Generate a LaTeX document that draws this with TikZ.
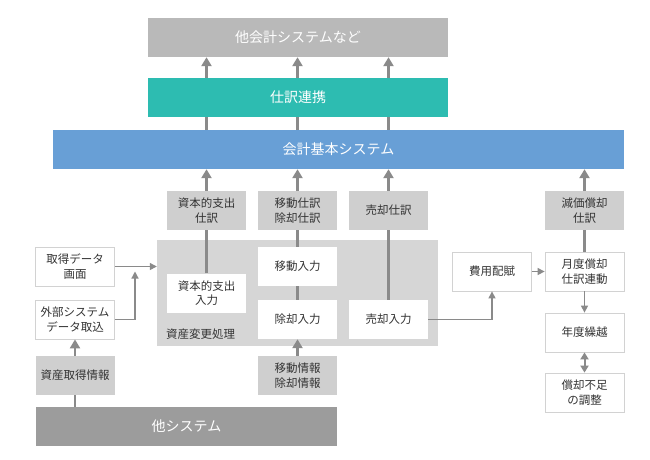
\documentclass[tikz,border=0pt]{standalone}
\usepackage{fontspec}
\setmainfont{Noto Sans CJK JP}
\usetikzlibrary{arrows.meta}
\definecolor{topgray}{HTML}{B9B9B9}
\definecolor{tealc}{HTML}{2DBCB1}
\definecolor{bluec}{HTML}{689FD6}
\definecolor{lbox}{HTML}{CFCFCF}
\definecolor{areac}{HTML}{D6D6D6}
\definecolor{darkc}{HTML}{9C9C9C}
\definecolor{arc}{HTML}{8A8A8A}
\definecolor{bdc}{HTML}{D2D2D2}
\definecolor{txt}{HTML}{333333}
\tikzset{
  box/.style={inner sep=0pt, minimum width=79pt, minimum height=39pt, align=center,
    font=\fontsize{11.5}{14.5}\selectfont, text=txt},
  wbox/.style={box, draw=bdc, line width=0.8pt, fill=white},
  gbox/.style={box, fill=lbox},
  bigbox/.style={inner sep=0pt, minimum height=39pt, text=white, font=\fontsize{14}{16}\selectfont},
  conn/.style={draw=arc, line width=2.4pt},
  uparr/.style={conn, -{Triangle[width=10pt,length=9pt]}},
  thinarr/.style={draw=arc, line width=1.2pt, -{Triangle[width=7pt,length=7pt]}},
  dblarr/.style={draw=arc, line width=2pt, {Triangle[width=8pt,length=7pt]}-{Triangle[width=8pt,length=7pt]}}
}
\begin{document}
\begin{tikzpicture}[x=1pt,y=-1pt]
\useasboundingbox[fill=white] (0,0) rectangle (650,459);
% big bars
\node[bigbox, fill=topgray, minimum width=300pt] (top) at (298,37.5) {他会計システムなど};
\node[bigbox, fill=tealc, minimum width=300pt] (teal) at (298,97.5) {仕訳連携};
\node[bigbox, fill=bluec, minimum width=571pt] (blue) at (338.5,149.5) {会計基本システム};
\node[bigbox, fill=darkc, minimum width=301pt] (other) at (186.5,426.5) {他システム};
% area
\node[inner sep=0pt, fill=areac, minimum width=281pt, minimum height=106pt] (area) at (297.5,293) {};
\node[anchor=west, inner sep=0pt, font=\fontsize{11.5}{14}\selectfont, text=txt] (arealbl) at (166,334) {資産変更処理};
% journal boxes
\node[gbox] (capj) at (206.5,210.5) {資本的支出\\仕訳};
\node[gbox] (mvj) at (297.5,210.5) {移動仕訳\\除却仕訳};
\node[gbox] (salej) at (388.5,210.5) {売却仕訳};
\node[gbox] (depj) at (584.5,210.5) {減価償却\\仕訳};
% inputs
\node[box, fill=white] (capin) at (206.5,293) {資本的支出\\入力};
\node[box, fill=white] (mvin) at (297.5,266.5) {移動入力};
\node[box, fill=white] (retin) at (297.5,319.5) {除却入力};
\node[box, fill=white] (salein) at (388.5,319.5) {売却入力};
\node[gbox] (mvinfo) at (297.5,375.5) {移動情報\\除却情報};
% left column
\node[wbox] (acq) at (75,266.5) {取得データ\\画面};
\node[wbox] (ext) at (75,319.5) {外部システム\\データ取込};
\node[gbox] (acqinfo) at (75,375.5) {資産取得情報};
% right column
\node[wbox] (cost) at (492,271.5) {費用配賦};
\node[wbox] (month) at (584.5,271.5) {月度償却\\仕訳連動};
\node[wbox] (year) at (584.5,332.5) {年度繰越};
\node[wbox] (short) at (584.5,392.5) {償却不足\\の調整};
\coordinate (j1) at (135,271.5);
% top connectors
\foreach \n in {capj,mvj,salej}{
  \draw[uparr] (\n.north |- teal.north) -- (\n.north |- top.south);
  \draw[conn] (\n.north |- blue.north) -- (\n.north |- teal.south);
}
\foreach \n in {capj,mvj,salej,depj}{
  \draw[uparr] (\n.north) -- (\n.north |- blue.south);
}
% vertical links
\draw[conn] (capin.north) -- (capj.south);
\draw[conn] (mvin.north) -- (mvj.south);
\draw[conn] (mvin.south) -- (retin.north);
\draw[uparr] (mvinfo.north) -- (retin.south);
\draw[conn] (salein.north) -- (salej.south);
\draw[conn] (month.north) -- (depj.south);
\draw[conn] (other.north -| acqinfo.south) -- (acqinfo.south);
\draw[uparr] (acqinfo.north) -- (ext.south);
% thin arrows
\draw[thinarr] (acq.east) -- (area.west |- acq.east);
\draw[thinarr] (ext.east) -| (j1);
\draw[thinarr] (salein.east) -| (cost.south);
\draw[thinarr] (cost.east) -- (month.west);
\draw[thinarr] (month.south) -- (year.north);
\draw[dblarr] (year.south) -- (short.north);
\end{tikzpicture}
\end{document}
